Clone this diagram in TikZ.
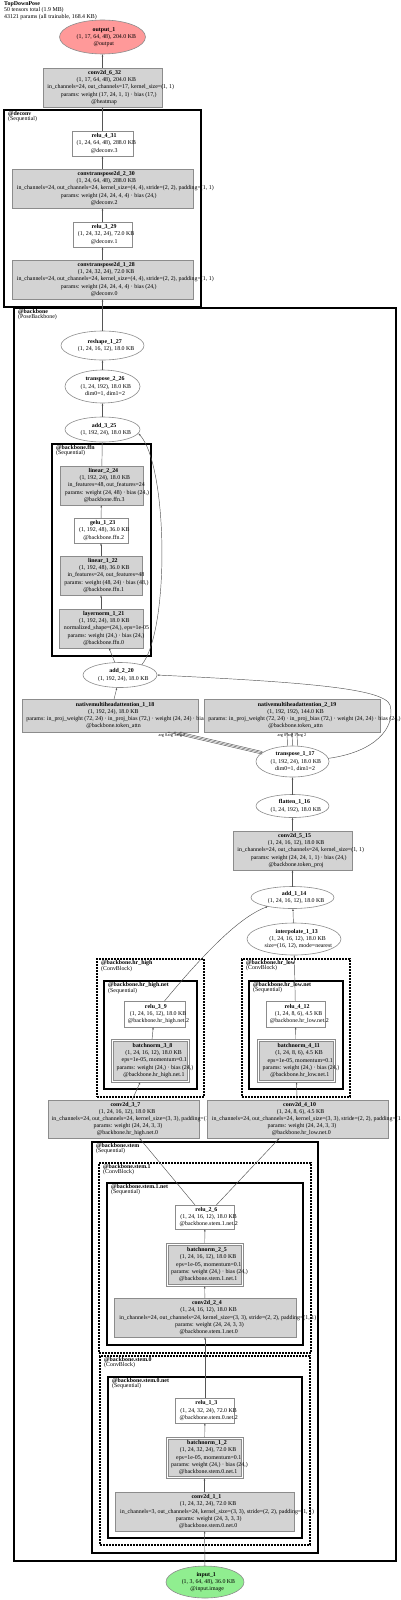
\documentclass[tikz,border=0pt]{standalone}
\usepackage{fontspec}
\setmainfont{Liberation Serif}
\usetikzlibrary{shapes.geometric,arrows.meta}
\definecolor{boxfill}{HTML}{D3D3D3}
\definecolor{boxline}{HTML}{8C8C8C}
\definecolor{outfill}{HTML}{FF9999}
\definecolor{infill}{HTML}{90EE90}
\definecolor{edgecol}{HTML}{555555}
\newcommand{\gl}[1]{\setbox0=\hbox{#1}\hspace*{0.13\wd0}\box0}
\newcommand{\gnode}[7]{\node[#1, minimum width=#5pt, minimum height=#6pt] (#2) at (#3,#4) {};
  \node[lbl] (#2t) at (#2.center) {#7};}
\newcommand{\bnode}[6]{\node[bnouter, minimum width=#4pt, minimum height=#5pt] (#1) at (#2,#3) {};
  \draw[nbox] ([xshift=2pt,yshift=2pt]#1.south west) rectangle ([xshift=-2pt,yshift=-2pt]#1.north east);
  \node[lbl] (#1t) at (#1.center) {#6};}
\newcommand{\gclus}[8]{\node[#1, anchor=north west, minimum width=#5pt, minimum height=#6pt] (#2) at (#3,#4) {};
  \node[clbl] (#2t) at ([xshift=4pt,yshift=-1.2pt]#2.north west) {\textbf{#7}\\#8};}
\begin{document}
\begin{tikzpicture}[x=1pt,y=-1pt,
  nbox/.style={rectangle, draw=boxline, fill=boxfill, line width=0.6pt, inner sep=0pt, outer sep=0pt},
  wbox/.style={nbox, fill=white},
  bnouter/.style={rectangle, draw=boxline, fill=white, line width=0.6pt, inner sep=0pt, outer sep=0pt},
  ell/.style={ellipse, draw=boxline, fill=white, line width=0.6pt, inner sep=0pt, outer sep=0pt},
  lbl/.style={align=center, inner sep=0pt, font=\fontsize{5.9}{7.2}\selectfont},
  clus/.style={rectangle, draw=black, line width=1.6pt, inner sep=0pt, outer sep=0pt},
  dclus/.style={clus, line width=1.5pt, dash pattern=on 2pt off 1pt},
  clbl/.style={anchor=north west, align=left, inner sep=0pt, font=\fontsize{5.9}{5.3}\selectfont},
  conn/.style={draw=edgecol, line width=0.45pt, -{Latex[length=2.4pt,width=1.8pt]}},
  alabel/.style={inner sep=0pt, font=\fontsize{4.3}{4.5}\selectfont}
]
\useasboundingbox (0,0) rectangle (400,1600);

% header
\node[clbl] (title) at (4,1.5) {\textbf{TopDownPose}\\50 tensors total (1.9 MB)\\43121 params (all trainable, 168.4 KB)};

% clusters
\gclus{clus}{deconv}{4}{110}{197}{197}{@deconv}{(Sequential)}
\gclus{clus}{backbone}{14}{308}{382}{1253}{@backbone}{(PoseBackbone)}
\gclus{clus}{ffn}{52}{444}{99}{212}{@backbone.ffn}{(Sequential)}
\gclus{dclus}{hrhigh}{97}{959}{107}{138}{@backbone.hr\_high}{(ConvBlock)}
\gclus{clus}{hrhighnet}{104}{981}{93}{108}{@backbone.hr\_high.net}{(Sequential)}
\gclus{dclus}{hrlow}{242}{959}{108}{138}{@backbone.hr\_low}{(ConvBlock)}
\gclus{clus}{hrlownet}{249}{981}{94}{108}{@backbone.hr\_low.net}{(Sequential)}
\gclus{clus}{stem}{92}{1142}{226}{411}{@backbone.stem}{(Sequential)}
\gclus{dclus}{stemone}{99}{1163}{212}{190}{@backbone.stem.1}{(ConvBlock)}
\gclus{clus}{stemonenet}{107}{1183}{196}{162}{@backbone.stem.1.net}{(Sequential)}
\gclus{dclus}{stemzero}{100}{1356}{210}{189}{@backbone.stem.0}{(ConvBlock)}
\gclus{clus}{stemzeronet}{108}{1377}{194}{161}{@backbone.stem.0.net}{(Sequential)}

% nodes
\gnode{ell, fill=outfill}{out}{102.5}{37}{86}{34}{\gl{\textbf{output\_1}}\\\gl{(1, 17, 64, 48), 204.0 KB}\\\gl{@output}}
\gnode{nbox}{c632}{102.5}{87.5}{119}{39}{\gl{\textbf{conv2d\_6\_32}}\\\gl{(1, 17, 64, 48), 204.0 KB}\\\gl{in\_channels=24, out\_channels=17, kernel\_size=(1, 1)}\\\gl{params: weight (17, 24, 1, 1) · bias (17,)}\\\gl{@heatmap}}
\gnode{wbox}{r431}{102.5}{143.5}{61}{25}{\gl{\textbf{relu\_4\_31}}\\\gl{(1, 24, 64, 48), 288.0 KB}\\\gl{@deconv.3}}
\gnode{nbox}{ct230}{102.5}{188.5}{181}{39}{\gl{\textbf{convtranspose2d\_2\_30}}\\\gl{(1, 24, 64, 48), 288.0 KB}\\\gl{in\_channels=24, out\_channels=24, kernel\_size=(4, 4), stride=(2, 2), padding=(1, 1)}\\\gl{params: weight (24, 24, 4, 4) · bias (24,)}\\\gl{@deconv.2}}
\gnode{wbox}{r329}{102.5}{234.5}{59}{25}{\gl{\textbf{relu\_3\_29}}\\\gl{(1, 24, 32, 24), 72.0 KB}\\\gl{@deconv.1}}
\gnode{nbox}{ct128}{102.5}{279.5}{181}{39}{\gl{\textbf{convtranspose2d\_1\_28}}\\\gl{(1, 24, 32, 24), 72.0 KB}\\\gl{in\_channels=24, out\_channels=24, kernel\_size=(4, 4), stride=(2, 2), padding=(1, 1)}\\\gl{params: weight (24, 24, 4, 4) · bias (24,)}\\\gl{@deconv.0}}
\gnode{ell}{rs127}{102.5}{345.5}{83}{29}{\gl{\textbf{reshape\_1\_27}}\\\gl{(1, 24, 16, 12), 18.0 KB}}
\gnode{ell}{tp226}{102.5}{386.5}{75}{33}{\gl{\textbf{transpose\_2\_26}}\\\gl{(1, 24, 192), 18.0 KB}\\\gl{dim0=1, dim1=2}}
\gnode{ell}{ad325}{102.5}{429.5}{75}{25}{\gl{\textbf{add\_3\_25}}\\\gl{(1, 192, 24), 18.0 KB}}
\gnode{nbox}{l224}{101.5}{485.5}{83}{39}{\gl{\textbf{linear\_2\_24}}\\\gl{(1, 192, 24), 18.0 KB}\\\gl{in\_features=48, out\_features=24}\\\gl{params: weight (24, 48) · bias (24,)}\\\gl{@backbone.ffn.3}}
\gnode{wbox}{g123}{101}{530.5}{54}{25}{\gl{\textbf{gelu\_1\_23}}\\\gl{(1, 192, 48), 36.0 KB}\\\gl{@backbone.ffn.2}}
\gnode{nbox}{l122}{101}{575.5}{82}{39}{\gl{\textbf{linear\_1\_22}}\\\gl{(1, 192, 48), 36.0 KB}\\\gl{in\_features=24, out\_features=48}\\\gl{params: weight (48, 24) · bias (48,)}\\\gl{@backbone.ffn.1}}
\gnode{nbox}{ln121}{101}{628.5}{84}{39}{\gl{\textbf{layernorm\_1\_21}}\\\gl{(1, 192, 24), 18.0 KB}\\\gl{normalized\_shape=(24,), eps=1e-05}\\\gl{params: weight (24,) · bias (24,)}\\\gl{@backbone.ffn.0}}
\gnode{ell}{ad220}{120}{675}{74}{25}{\gl{\textbf{add\_2\_20}}\\\gl{(1, 192, 24), 18.0 KB}}
\gnode{nbox}{m118}{110}{715.5}{176}{33}{\gl{\textbf{nativemultiheadattention\_1\_18}}\\\gl{(1, 192, 24), 18.0 KB}\\\gl{params: in\_proj\_weight (72, 24) · in\_proj\_bias (72,) · weight (24, 24) · bias (24,)}\\\gl{@backbone.token\_attn}}
\gnode{nbox}{m219}{292}{715.5}{176}{33}{\gl{\textbf{nativemultiheadattention\_2\_19}}\\\gl{(1, 192, 192), 144.0 KB}\\\gl{params: in\_proj\_weight (72, 24) · in\_proj\_bias (72,) · weight (24, 24) · bias (24,)}\\\gl{@backbone.token\_attn}}
\gnode{ell}{tp117}{292.5}{761.5}{73}{31}{\gl{\textbf{transpose\_1\_17}}\\\gl{(1, 192, 24), 18.0 KB}\\\gl{dim0=1, dim1=2}}
\gnode{ell}{fl116}{292.5}{806}{73}{23}{\gl{\textbf{flatten\_1\_16}}\\\gl{(1, 24, 192), 18.0 KB}}
\gnode{nbox}{c515}{292.5}{850.5}{119}{39}{\gl{\textbf{conv2d\_5\_15}}\\\gl{(1, 24, 16, 12), 18.0 KB}\\\gl{in\_channels=24, out\_channels=24, kernel\_size=(1, 1)}\\\gl{params: weight (24, 24, 1, 1) · bias (24,)}\\\gl{@backbone.token\_proj}}
\gnode{ell}{ad114}{292.5}{897.5}{83}{22}{\gl{\textbf{add\_1\_14}}\\\gl{(1, 24, 16, 12), 18.0 KB}}
\gnode{ell}{ip113}{294}{939}{94}{32}{\gl{\textbf{interpolate\_1\_13}}\\\gl{(1, 24, 16, 12), 18.0 KB}\\\gl{size=(16, 12), mode=nearest}}
\gnode{wbox}{r39}{154.5}{1014}{61}{26}{\gl{\textbf{relu\_3\_9}}\\\gl{(1, 24, 16, 12), 18.0 KB}\\\gl{@backbone.hr\_high.net.2}}
\bnode{bn38}{150}{1060.5}{78}{43}{\gl{\textbf{batchnorm\_3\_8}}\\\gl{(1, 24, 16, 12), 18.0 KB}\\\gl{eps=1e-05, momentum=0.1}\\\gl{params: weight (24,) · bias (24,)}\\\gl{@backbone.hr\_high.net.1}}
\gnode{wbox}{r412}{295.5}{1014}{59}{26}{\gl{\textbf{relu\_4\_12}}\\\gl{(1, 24, 8, 6), 4.5 KB}\\\gl{@backbone.hr\_low.net.2}}
\bnode{bn411}{296}{1060.5}{78}{43}{\gl{\textbf{batchnorm\_4\_11}}\\\gl{(1, 24, 8, 6), 4.5 KB}\\\gl{eps=1e-05, momentum=0.1}\\\gl{params: weight (24,) · bias (24,)}\\\gl{@backbone.hr\_low.net.1}}
\gnode{nbox}{c37}{123.5}{1119}{151}{38}{\gl{\textbf{conv2d\_3\_7}}\\\gl{(1, 24, 16, 12), 18.0 KB}\\\gl{in\_channels=24, out\_channels=24, kernel\_size=(3, 3), padding=(1, 1)}\\\gl{params: weight (24, 24, 3, 3)}\\\gl{@backbone.hr\_high.net.0}}
\gnode{nbox}{c410}{297.5}{1119}{181}{38}{\gl{\textbf{conv2d\_4\_10}}\\\gl{(1, 24, 8, 6), 4.5 KB}\\\gl{in\_channels=24, out\_channels=24, kernel\_size=(3, 3), stride=(2, 2), padding=(1, 1)}\\\gl{params: weight (24, 24, 3, 3)}\\\gl{@backbone.hr\_low.net.0}}
\gnode{wbox}{r26}{205}{1217}{59}{24}{\gl{\textbf{relu\_2\_6}}\\\gl{(1, 24, 16, 12), 18.0 KB}\\\gl{@backbone.stem.1.net.2}}
\bnode{bn25}{204.5}{1264.5}{77}{43}{\gl{\textbf{batchnorm\_2\_5}}\\\gl{(1, 24, 16, 12), 18.0 KB}\\\gl{eps=1e-05, momentum=0.1}\\\gl{params: weight (24,) · bias (24,)}\\\gl{@backbone.stem.1.net.1}}
\gnode{nbox}{c24}{205}{1317.5}{182}{39}{\gl{\textbf{conv2d\_2\_4}}\\\gl{(1, 24, 16, 12), 18.0 KB}\\\gl{in\_channels=24, out\_channels=24, kernel\_size=(3, 3), stride=(2, 2), padding=(1, 1)}\\\gl{params: weight (24, 24, 3, 3)}\\\gl{@backbone.stem.1.net.0}}
\gnode{wbox}{r13}{205}{1410.5}{59}{25}{\gl{\textbf{relu\_1\_3}}\\\gl{(1, 24, 32, 24), 72.0 KB}\\\gl{@backbone.stem.0.net.2}}
\bnode{bn12}{204.5}{1457.5}{77}{41}{\gl{\textbf{batchnorm\_1\_2}}\\\gl{(1, 24, 32, 24), 72.0 KB}\\\gl{eps=1e-05, momentum=0.1}\\\gl{params: weight (24,) · bias (24,)}\\\gl{@backbone.stem.0.net.1}}
\gnode{nbox}{c11}{204.5}{1511.5}{179}{39}{\gl{\textbf{conv2d\_1\_1}}\\\gl{(1, 24, 32, 24), 72.0 KB}\\\gl{in\_channels=3, out\_channels=24, kernel\_size=(3, 3), stride=(2, 2), padding=(1, 1)}\\\gl{params: weight (24, 3, 3, 3)}\\\gl{@backbone.stem.0.net.0}}
\gnode{ell, fill=infill}{inp}{205}{1582}{78}{32}{\gl{\textbf{input\_1}}\\\gl{(1, 3, 64, 48), 36.0 KB}\\\gl{@input.image}}

% edges
\draw[conn] (c632) -- (out);
\draw[conn] (r431) -- (c632);
\draw[conn] (ct230) -- (r431);
\draw[conn] (r329) -- (ct230);
\draw[conn] (ct128) -- (r329);
\draw[conn] (rs127) -- (ct128);
\draw[conn] (tp226) -- (rs127);
\draw[conn] (ad325) -- (tp226);
\draw[conn] (l224) -- (ad325);
\draw[conn] (g123) -- (l224);
\draw[conn] (l122) -- (g123);
\draw[conn] (ln121) -- (l122);
\draw[conn] (ad220) -- (ln121);
\draw[conn] (ad220.25) .. controls (170,630) and (168,465) .. (ad325.-6);
\draw[conn] (m118) -- (ad220);
\draw[conn] (tp117.5) .. controls (375,752) and (396,728) .. (390,705) .. controls (384,688) and (300,682) .. (ad220.east);
\foreach \s/\e in {-1.3/57.1, 0/63, 1.3/68.9}
  \draw[conn] ([yshift=\s pt]tp117.164) -- ([xshift=\e pt]m118.south);
\foreach \s in {-5,0,5}
  \draw[conn] ([xshift=\s pt]tp117.north) -- ([xshift=\s pt]m219.south);
\node[alabel] (la0) at (163,735.5) {arg 0};
\node[alabel] (la1) at (172,735.5) {arg 1};
\node[alabel] (la2) at (181,735.5) {arg 2};
\node[alabel] (lb0) at (282,735.5) {arg 0};
\node[alabel] (lb1) at (292,735.5) {arg 1};
\node[alabel] (lb2) at (302,735.5) {arg 2};
\draw[conn] (fl116) -- (tp117);
\draw[conn] (c515) -- (fl116);
\draw[conn] (ad114) -- (c515);
\draw[conn] (ip113) -- (ad114);
\draw[conn] ([xshift=10pt]r39.north) .. controls (215,940) and (245,915) .. (ad114.200);
\draw[conn] (r412) -- (ip113);
\draw[conn] (bn38) -- (r39);
\draw[conn] (c37) -- (bn38);
\draw[conn] (bn411) -- (r412);
\draw[conn] (c410) -- (bn411);
\draw[conn] (r26) -- (c37);
\draw[conn] (r26) -- (c410);
\draw[conn] (bn25) -- (r26);
\draw[conn] (c24) -- (bn25);
\draw[conn] (r13) -- (c24);
\draw[conn] (bn12) -- (r13);
\draw[conn] (c11) -- (bn12);
\draw[conn] (inp) -- (c11);
\end{tikzpicture}
\end{document}
